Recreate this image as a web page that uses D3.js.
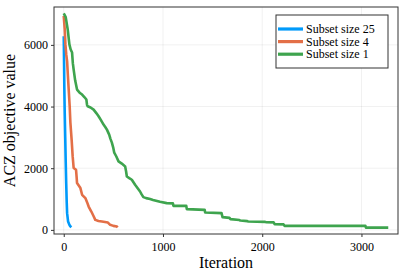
<!DOCTYPE html>
<html>
<head>
<meta charset="utf-8">
<script src="https://cdn.jsdelivr.net/npm/d3@7"></script>
<style>
body { margin: 0; background: #fff; }
text { font-family: "Liberation Serif", "DejaVu Serif", serif; fill: #000; }
</style>
</head>
<body>
<div id="graf"></div>
<script>
// datos: [iteracion, valor]
const serieNombres = ["Subset size 25", "Subset size 4", "Subset size 1"]
const serieColores = ["#009AFA", "#E36F47", "#3EA44E"]

const subset25 = [[0,6280],[3,5500],[6,4600],[10,3800],[15,3000],[20,2200],[25,1500],[30,900],[34,543],[44,270],[57,163],[66,115],[77,85]]

const subset4 = [[0,6940],[10,6500],[17,6016],[25,5700],[34,5463],[42,5000],[50,4553],[60,4000],[67,3480],[80,2900],[90,2384],[100,2007],[124,1951],[130,1700],[134,1519],[168,1356],[185,1138],[218,1031],[235,900],[251,758],[278,595],[300,450],[318,325],[350,290],[385,270],[445,237],[468,163],[500,130],[536,107],[542,80]]

const subset1 = [[0,7020],[20,6900],[40,6500],[57,6016],[70,5850],[84,5750],[92,5400],[100,5200],[115,4850],[134,4550],[160,4450],[185,4390],[210,4300],[228,4228],[235,4050],[241,4010],[270,3970],[301,3900],[330,3780],[351,3685],[375,3560],[401,3415],[420,3330],[435,3252],[458,3089],[470,2960],[485,2829],[500,2650],[509,2504],[530,2380],[552,2221],[585,2150],[619,2059],[628,1900],[636,1733],[660,1680],[686,1626],[719,1463],[745,1350],[769,1245],[785,1150],[802,1063],[830,1030],[870,1000],[900,970],[970,910],[1037,868],[1100,860],[1105,780],[1235,780],[1240,673],[1420,650],[1425,563],[1590,543],[1600,413],[1670,390],[1680,348],[1770,320],[1780,302],[1850,285],[1860,270],[2030,260],[2040,250],[2115,245],[2125,185],[2215,180],[2225,130],[3040,130],[3045,75],[3270,75]]

const xTicks = [0, 1000, 2000, 3000]
const yTicks = [0, 2000, 4000, 6000]

const series = [subset25, subset4, subset1]

const anchoTotal = 407
const altoTotal = 271
const margins = { top: 7, right: 9, bottom: 37, left: 54 }
const ancho = anchoTotal - margins.left - margins.right
const alto = altoTotal - margins.top - margins.bottom

const svg = d3.select("#graf").append("svg").attr("width", anchoTotal).attr("height", altoTotal)
const g = svg.append("g").attr("transform", `translate(${margins.left}, ${margins.top})`)

// margen de 3% como Plots.jl
const todos = series.flat()
const xExt = d3.extent(todos, d => d[0])
const yExt = d3.extent(todos, d => d[1])
const xPad = (xExt[1] - xExt[0]) * 0.03
const yPad = (yExt[1] - yExt[0]) * 0.03

const x = d3.scaleLinear().domain([xExt[0] - xPad, xExt[1] + xPad]).range([0, ancho])
const y = d3.scaleLinear().domain([yExt[0] - yPad, yExt[1] + yPad]).range([alto, 0])

// grid
g.append("g").selectAll("line").data(xTicks).join("line")
    .attr("x1", d => x(d)).attr("x2", d => x(d)).attr("y1", 0).attr("y2", alto)
    .attr("stroke", "#000").attr("stroke-opacity", 0.1).attr("stroke-width", 0.6)
g.append("g").selectAll("line").data(yTicks).join("line")
    .attr("y1", d => y(d)).attr("y2", d => y(d)).attr("x1", 0).attr("x2", ancho)
    .attr("stroke", "#000").attr("stroke-opacity", 0.1).attr("stroke-width", 0.6)

// ejes
const fmt = d3.format("d")
const ejeX = g.append("g").attr("transform", `translate(0, ${alto})`)
    .call(d3.axisBottom(x).tickValues(xTicks).tickFormat(fmt).tickSize(3).tickPadding(5))
const ejeY = g.append("g")
    .call(d3.axisLeft(y).tickValues(yTicks).tickFormat(fmt).tickSize(3).tickPadding(3))
;[ejeX, ejeY].forEach(e => {
    e.select(".domain").remove()
    e.selectAll(".tick line").attr("stroke", "#333")
    e.selectAll("text").style("font-family", "'Liberation Serif', serif").style("font-size", "12px").attr("fill", "#000")
})

// lineas
const linea = d3.line().x(d => x(d[0])).y(d => y(d[1]))
series.forEach((s, i) => {
    g.append("path").datum(s).attr("d", linea)
        .attr("fill", "none").attr("stroke", serieColores[i]).attr("stroke-width", 2.6)
        .attr("stroke-linejoin", "round")
})

// marco
g.append("rect").attr("width", ancho).attr("height", alto)
    .attr("fill", "none").attr("stroke", "#333").attr("stroke-width", 1)

// titulos de ejes
svg.append("text").attr("x", margins.left + ancho / 2).attr("y", 268)
    .attr("text-anchor", "middle").style("font-size", "16px").text("Iteration")
svg.append("text").attr("transform", `translate(15, ${margins.top + alto / 2}) rotate(-90)`)
    .attr("text-anchor", "middle").style("font-size", "16px").text("ACZ objective value")

// leyenda
const ley = svg.append("g").attr("transform", "translate(276, 15)")
ley.append("rect").attr("width", 112).attr("height", 53)
    .attr("fill", "#fff").attr("stroke", "#333").attr("stroke-width", 1)
serieNombres.forEach((n, i) => {
    const yy = 14 + i * 12.6
    ley.append("line").attr("x1", 2).attr("x2", 27).attr("y1", yy).attr("y2", yy)
        .attr("stroke", serieColores[i]).attr("stroke-width", 3.2)
    ley.append("text").attr("x", 30).attr("y", yy + 4).style("font-size", "12px").text(n)
})
</script>
</body>
</html>
